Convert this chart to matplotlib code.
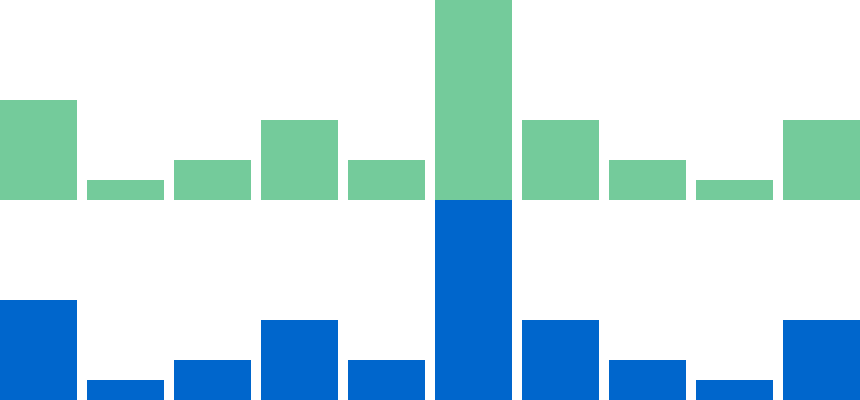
import numpy as np
import matplotlib
matplotlib.use("Agg")
import matplotlib.pyplot as plt

categories = list(range(1, 11))
top_values = [5, 1, 2, 4, 2, 10, 4, 2, 1, 4]
bottom_values = [5, 1, 2, 4, 2, 10, 4, 2, 1, 4]

fig = plt.figure(figsize=(8.6, 4), dpi=100)
ax_top = fig.add_axes([0, 0.5, 1, 0.5])
ax_bot = fig.add_axes([0, 0, 1, 0.5])

x = np.arange(len(categories)) * 87
ax_top.bar(x, top_values, width=77, align="edge", color="#74cb9b")
ax_bot.bar(x, bottom_values, width=77, align="edge", color="#0066cc")

for ax in (ax_top, ax_bot):
    ax.set_xlim(0, 860)
    ax.set_ylim(0, 10)
    ax.axis("off")

fig.savefig("out.png", dpi=100)
